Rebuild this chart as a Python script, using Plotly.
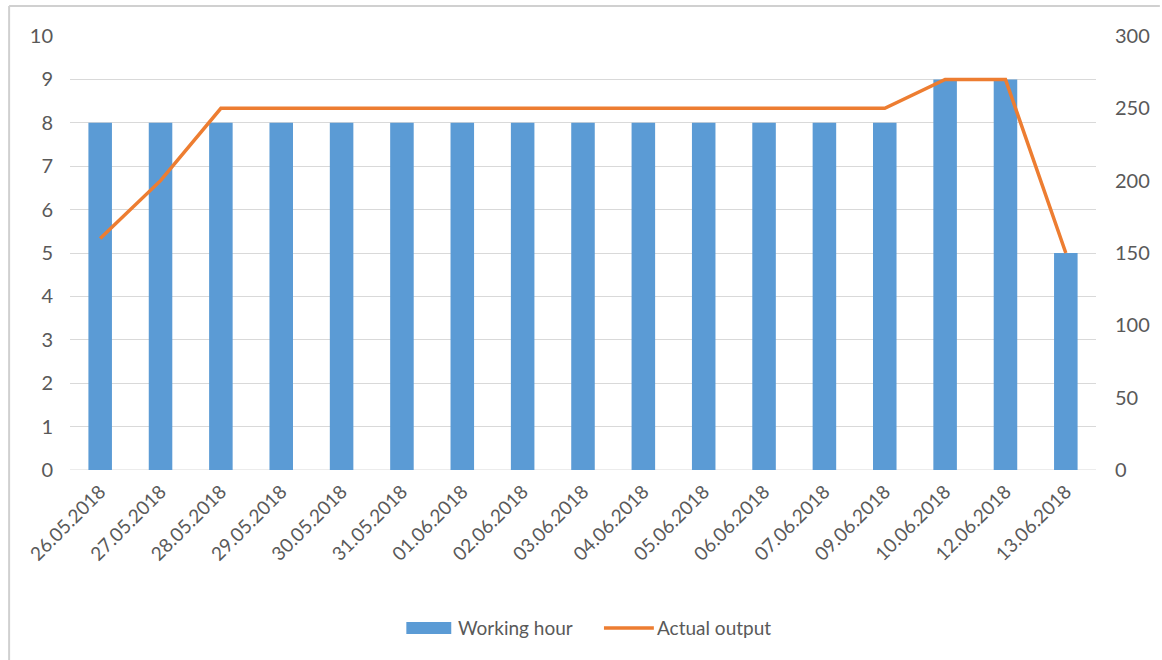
import plotly.graph_objects as go

dates = ["26.05.2018", "27.05.2018", "28.05.2018", "29.05.2018", "30.05.2018",
         "31.05.2018", "01.06.2018", "02.06.2018", "03.06.2018", "04.06.2018",
         "05.06.2018", "06.06.2018", "07.06.2018", "09.06.2018", "10.06.2018",
         "12.06.2018", "13.06.2018"]
working_hour = [8, 8, 8, 8, 8, 8, 8, 8, 8, 8, 8, 8, 8, 8, 9, 9, 5]
actual_output = [160, 200, 250, 250, 250, 250, 250, 250, 250, 250, 250, 250, 250, 250, 270, 270, 150]

BAR_COLOR = "#5B9BD5"
LINE_COLOR = "#ED7D31"
TEXT_COLOR = "#595959"
GRID_COLOR = "#D9D9D9"

W, H = 1162, 660
ml, mr, mt, mb = 70, 64, 36, 190
pw, ph = W - ml - mr, H - mt - mb

def px_x(x):
    return (x - ml) / pw

def px_y(y):
    return (mt + ph - y) / ph

font = dict(family="Lato, 'Open Sans', sans-serif", size=20, color=TEXT_COLOR)

fig = go.Figure()
fig.add_trace(go.Bar(x=dates, y=working_hour, name="Working hour",
                     marker=dict(color=BAR_COLOR, line=dict(width=0))))
fig.add_trace(go.Scatter(x=dates, y=actual_output, name="Actual output",
                         mode="lines", yaxis="y2",
                         line=dict(color=LINE_COLOR, width=3.5)))

# legend drawn below the axis: wide bar swatch, line swatch, labels
legend_y = 628
shapes = [
    dict(type="rect", xref="paper", yref="paper",
         x0=px_x(407), x1=px_x(452), y0=px_y(634), y1=px_y(622),
         fillcolor=BAR_COLOR, line=dict(width=0)),
    dict(type="line", xref="paper", yref="paper",
         x0=px_x(605), x1=px_x(655), y0=px_y(legend_y), y1=px_y(legend_y),
         line=dict(color=LINE_COLOR, width=3.5)),
    # chart frame (left and top edges)
    dict(type="line", xref="paper", yref="paper",
         x0=px_x(9), x1=px_x(9), y0=px_y(6), y1=px_y(H),
         line=dict(color="#D0D0D0", width=2)),
    dict(type="line", xref="paper", yref="paper",
         x0=px_x(9), x1=px_x(W), y0=px_y(6), y1=px_y(6),
         line=dict(color="#D0D0D0", width=2)),
    # baseline gridline
    dict(type="line", xref="paper", yref="y", x0=0, x1=1, y0=0, y1=0,
         line=dict(color=GRID_COLOR, width=1), layer="below"),
]
annotations = [
    dict(text="Working hour", xref="paper", yref="paper", x=px_x(457), y=px_y(legend_y),
         xanchor="left", yanchor="middle", showarrow=False,
         font=dict(size=19, color=TEXT_COLOR)),
    dict(text="Actual output", xref="paper", yref="paper", x=px_x(656), y=px_y(legend_y),
         xanchor="left", yanchor="middle", showarrow=False,
         font=dict(size=19, color=TEXT_COLOR)),
]

fig.update_layout(
    width=W, height=H,
    margin=dict(l=ml, r=mr, t=mt, b=mb),
    paper_bgcolor="white", plot_bgcolor="white",
    font=font,
    bargap=0.61,
    showlegend=False,
    xaxis=dict(type="category", tickangle=-45, showgrid=False, showline=False,
               ticks="", tickfont=dict(size=19), ticklabelstandoff=6),
    yaxis=dict(range=[0, 10], dtick=1, showgrid=True, gridcolor=GRID_COLOR, gridwidth=1,
               zeroline=False, showline=False, ticks="", ticklabelstandoff=16),
    yaxis2=dict(range=[0, 300], dtick=50, overlaying="y", side="right",
                showgrid=False, zeroline=False, showline=False, ticks="",
                ticklabelstandoff=18),
    shapes=shapes,
    annotations=annotations,
)

fig.write_html("out.html")
